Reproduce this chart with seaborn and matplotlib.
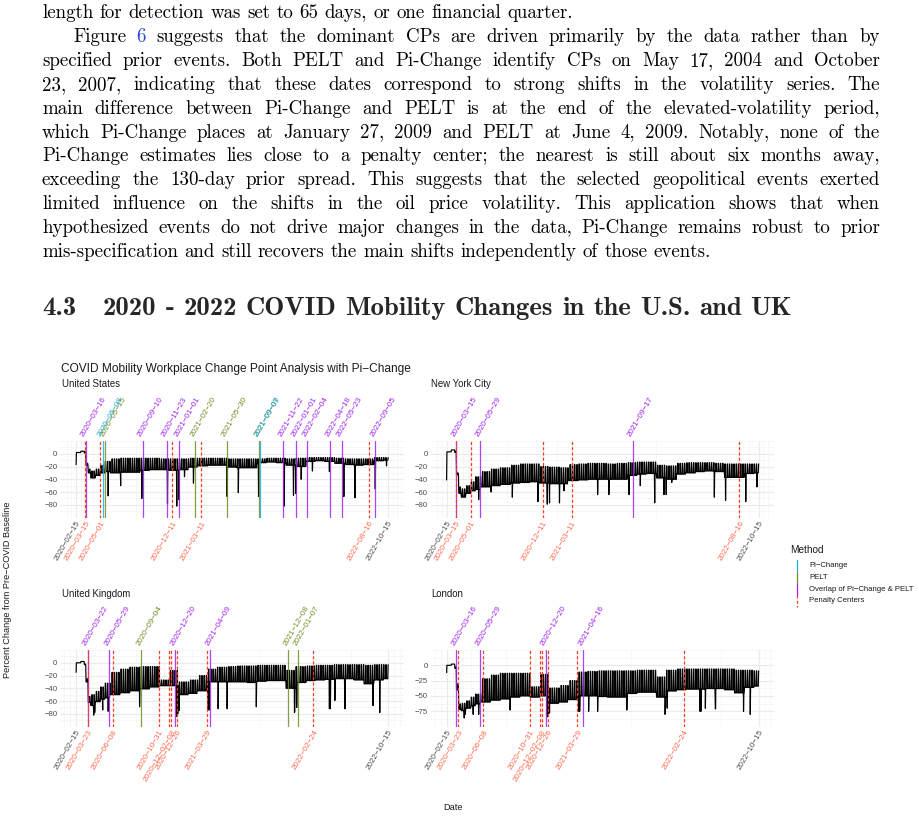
import numpy as np
import pandas as pd
import matplotlib
matplotlib.use("Agg")
import matplotlib.pyplot as plt
import matplotlib.dates as mdates
from matplotlib.lines import Line2D
import seaborn as sns

sns.set_style("white")
plt.rcParams["font.family"] = ["Liberation Sans", "DejaVu Sans"]

# ---------------------------------------------------------------------------
# data
# weekday level (lower band) and weekend level (upper spikes) per period
# ---------------------------------------------------------------------------
periods = [
    "2020-02-15", "2020-03-01", "2020-03-12", "2020-03-17", "2020-03-24",
    "2020-04-01", "2020-04-15", "2020-05-01", "2020-05-15",
    "2020-06-01", "2020-07-01", "2020-08-01", "2020-09-01", "2020-10-01",
    "2020-11-01", "2020-12-01",
    "2021-01-01", "2021-02-01", "2021-03-01", "2021-04-01", "2021-05-01",
    "2021-06-01", "2021-07-01", "2021-08-01", "2021-09-01", "2021-10-01",
    "2021-11-01", "2021-12-01",
    "2022-01-01", "2022-02-01", "2022-03-01", "2022-04-01", "2022-05-01",
    "2022-06-01", "2022-07-01", "2022-08-01", "2022-09-01", "2022-10-01",
]

us_weekday = [2, 4, 1, -18, -30, -38, -34, -30, -28, -30, -29, -29, -26, -25, -25, -26,
              -25, -21, -19, -18, -18, -21, -22, -22, -14, -13, -14, -18,
              -20, -12, -11, -12, -15, -17, -18, -17, -11, -10]
us_weekend = [2, 4, 3, -15, -24, -27, -24, -18, -12, -8, -7, -7, -7, -7, -8, -8,
              -8, -7, -7, -7, -7, -8, -8, -8, -8, -7, -7, -8,
              -7, -6, -6, -6, -7, -8, -8, -8, -6, -6]
us_hol_dates = ["2020-02-15", "2020-05-25", "2020-07-03", "2020-09-07", "2020-11-26",
                "2020-12-25", "2021-01-01", "2021-01-18", "2021-02-15", "2021-05-31",
                "2021-07-05", "2021-09-06", "2021-11-25", "2021-12-24", "2021-12-31",
                "2022-01-17", "2022-02-21", "2022-04-15", "2022-05-30", "2022-07-04",
                "2022-09-05", "2022-10-10"]
us_hol_values = [-17, -66, -50, -70, -78, -82, -72, -36, -46, -67,
                 -61, -67, -82, -65, -62, -40, -27, -28, -67, -69, -55, -19]

nyc_weekday = [3, 6, 2, -33, -62, -68, -62, -58, -56, -52, -50, -48, -46, -45, -44, -46,
               -47, -47, -42, -41, -40, -40, -40, -40, -34, -32, -31, -38,
               -40, -32, -30, -28, -27, -28, -37, -37, -31, -30]
nyc_weekend = [3, 6, 4, -30, -52, -55, -50, -44, -36, -28, -24, -22, -18, -16, -16, -20,
               -21, -22, -17, -16, -15, -15, -16, -15, -14, -13, -13, -18,
               -19, -15, -14, -14, -14, -15, -16, -16, -16, -16]
nyc_hol_dates = ["2020-02-15", "2020-05-25", "2020-07-03", "2020-09-07", "2020-11-26",
                 "2020-12-25", "2021-01-01", "2021-02-01", "2021-02-15", "2021-05-31",
                 "2021-07-05", "2021-09-06", "2021-10-11", "2021-11-25", "2021-12-24",
                 "2021-12-31", "2022-01-17", "2022-05-30", "2022-07-04", "2022-09-05",
                 "2022-10-10"]
nyc_hol_values = [-41, -72, -60, -68, -75, -79, -77, -77, -58, -64,
                  -64, -64, -50, -77, -64, -64, -45, -68, -73, -75, -52]

uk_weekday = [0, 2, -3, -30, -62, -67, -61, -57, -55, -50, -47, -44, -41, -38, -36, -36,
              -50, -48, -44, -30, -30, -30, -30, -31, -29, -28, -28, -40,
              -31, -28, -27, -26, -25, -25, -27, -33, -27, -25]
uk_weekend = [0, 2, -2, -25, -53, -50, -45, -38, -32, -15, -10, -7, -6, -6, -27, -12,
              -30, -27, -20, -10, -7, -6, -5, -5, -4, -4, -4, -12,
              -6, -5, -4, -4, -3, -3, -3, -4, -3, -3]
uk_hol_dates = ["2020-02-15", "2020-04-10", "2020-04-13", "2020-05-08", "2020-05-25",
                "2020-08-31", "2020-12-25", "2020-12-28", "2021-01-01", "2021-04-02",
                "2021-04-05", "2021-05-03", "2021-05-31", "2021-08-30", "2021-12-27",
                "2021-12-28", "2022-01-03", "2022-04-15", "2022-04-18", "2022-05-02",
                "2022-06-02", "2022-06-03", "2022-08-29", "2022-09-19"]
uk_hol_values = [-15, -82, -78, -74, -76, -69, -84, -80, -75, -74,
                 -74, -72, -72, -69, -78, -76, -70, -72, -72, -59,
                 -72, -72, -67, -78]

ldn_weekday = [0, 2, -5, -40, -72, -74, -70, -66, -63, -60, -57, -55, -52, -50, -52, -50,
               -62, -60, -56, -50, -50, -51, -52, -52, -46, -44, -44, -52,
               -42, -40, -39, -39, -38, -38, -40, -45, -36, -34]
ldn_weekend = [0, 2, -3, -30, -63, -62, -58, -52, -47, -22, -16, -13, -13, -13, -35, -15,
               -37, -33, -25, -11, -10, -9, -9, -9, -9, -8, -8, -19,
               -8, -6, -6, -6, -6, -6, -6, -8, -8, -9]
ldn_hol_dates = uk_hol_dates
ldn_hol_values = [-12, -86, -80, -80, -80, -73, -84, -80, -78, -75,
                  -75, -75, -75, -73, -80, -78, -70, -75, -75, -70,
                  -71, -71, -75, -80]

# change points (label text, method)
us_cp_dates = ["2020-03-16", "2020-05-08", "2020-05-15", "2020-09-10", "2020-11-23",
               "2021-01-01", "2021-02-20", "2021-05-30", "2021-09-07", "2021-09-09",
               "2021-11-22", "2022-01-01", "2022-02-04", "2022-04-18", "2022-05-23",
               "2022-09-05"]
us_cp_methods = ["both", "pi", "pelt", "both", "both", "both", "pelt", "pelt", "pelt", "pi",
                 "both", "both", "both", "both", "both", "both"]
nyc_cp_dates = ["2020-03-15", "2020-05-29", "2021-09-17"]
nyc_cp_methods = ["both", "both", "both"]
uk_cp_dates = ["2020-03-22", "2020-05-29", "2020-09-04", "2020-12-20", "2021-04-09",
               "2021-12-08", "2022-01-07"]
uk_cp_methods = ["both", "both", "pelt", "both", "both", "pelt", "pelt"]
ldn_cp_dates = ["2020-03-16", "2020-05-29", "2020-12-20", "2021-04-16"]
ldn_cp_methods = ["both", "both", "both", "both"]

# penalty centres (prior events)
us_penalty = ["2020-03-15", "2020-05-01", "2020-12-11", "2021-03-11", "2022-08-16"]
us_penalty_labels = ["2020-03-15", "2020-05-01", "2020-12-11", "2021-03-11", "2022-08-16"]
uk_penalty = ["2020-03-23", "2020-06-08", "2020-10-31", "2020-12-02", "2020-12-08",
              "2020-12-26", "2021-03-29", "2022-02-24"]
uk_penalty_labels = ["2020-03-23", "2020-06-08", "2020-10-31", "", "2020-12-02-08",
                     "2020-12-26", "2021-03-29", "2022-02-24"]
range_ends = ["2020-02-15", "2022-10-15"]

# ---------------------------------------------------------------------------
W, H = 920, 819
PI_COL = "#1AADEE"
PELT_COL = "#6B8E23"
BOTH_COL = "#A020F0"
PEN_COL = "#FF3B1F"
PEN_TXT = "#FF6A50"
GREY = "#4D4D4D"
method_col = {"pi": PI_COL, "pelt": PELT_COL, "both": BOTH_COL}

days = pd.date_range(range_ends[0], range_ends[1], freq="D")
period_starts = pd.to_datetime(periods)


def daily_series(weekday, weekend, hol_dates, hol_values):
    idx = period_starts.searchsorted(days, side="right") - 1
    vals = np.where(days.dayofweek < 5, np.asarray(weekday, float)[idx],
                    np.asarray(weekend, float)[idx])
    s = pd.Series(vals, index=days)
    s[pd.to_datetime(hol_dates)] = hol_values
    return s


def dnum(d):
    return mdates.date2num(pd.to_datetime(d))


def dash(s):
    return s.replace("-", "\u2212")


def px_box(x0, y0, x1, y1):
    return [x0 / W, 1 - y1 / H, (x1 - x0) / W, (y1 - y0) / H]


def gg_minor(b, lo, hi):
    b = np.sort(np.asarray(b, float))
    bd = b[1] - b[0]
    if lo < b[0]:
        b = np.r_[b[0] - bd, b]
    if hi > b[-1]:
        b = np.r_[b, b[-1] + bd]
    return np.unique(np.r_[b, (b[:-1] + b[1:]) / 2])


fig = plt.figure(figsize=(W / 100, H / 100), dpi=100)
fig.patch.set_facecolor("white")

panels = [
    dict(title="United States", box=(60.5, 441, 403.7, 517.6), title_x=62, title_y=384,
         s=daily_series(us_weekday, us_weekend, us_hol_dates, us_hol_values),
         cps=us_cp_dates, meth=us_cp_methods, pen=us_penalty, pen_lab=us_penalty_labels, step=20),
    dict(title="New York City", box=(431, 441, 774.2, 517.6), title_x=431, title_y=384,
         s=daily_series(nyc_weekday, nyc_weekend, nyc_hol_dates, nyc_hol_values),
         cps=nyc_cp_dates, meth=nyc_cp_methods, pen=us_penalty, pen_lab=us_penalty_labels, step=20),
    dict(title="United Kingdom", box=(60.5, 650, 403.7, 726.6), title_x=62, title_y=594,
         s=daily_series(uk_weekday, uk_weekend, uk_hol_dates, uk_hol_values),
         cps=uk_cp_dates, meth=uk_cp_methods, pen=uk_penalty, pen_lab=uk_penalty_labels, step=20),
    dict(title="London", box=(431, 650, 774.2, 726.6), title_x=431, title_y=594,
         s=daily_series(ldn_weekday, ldn_weekend, ldn_hol_dates, ldn_hol_values),
         cps=ldn_cp_dates, meth=ldn_cp_methods, pen=uk_penalty, pen_lab=uk_penalty_labels, step=25),
]

x_start, x_end = dnum(range_ends[0]), dnum(range_ends[1])
x_pad = 0.05 * (x_end - x_start)

for p in panels:
    ax = fig.add_axes(px_box(*p["box"]))
    s = p["s"]
    df = pd.DataFrame({"date": mdates.date2num(s.index), "value": s.values})
    sns.lineplot(data=df, x="date", y="value", ax=ax, color="black",
                 linewidth=0.85, estimator=None, zorder=2)

    # change points
    for d, m in zip(p["cps"], p["meth"]):
        ax.axvline(dnum(d), color=method_col[m], lw=0.9, alpha=0.85, zorder=3)
    # penalty centres
    for d in p["pen"]:
        ax.axvline(dnum(d), color=PEN_COL, lw=0.9, ls=(0, (2.4, 1.8)), zorder=4)

    lo, hi = s.min(), s.max()
    ypad = 0.05 * (hi - lo)
    ax.set_ylim(lo - ypad, hi + ypad)
    xlo, xhi = x_start - x_pad, x_end + x_pad
    ax.set_xlim(xlo, xhi)

    # y axis
    step = p["step"]
    yt = np.arange(0, lo - ypad, -step)
    ax.set_yticks(yt)
    ax.set_yticklabels([dash(str(int(v))) for v in yt], fontsize=5.6, color=GREY)
    ax.set_yticks(gg_minor(yt[::-1], lo - ypad, hi + ypad), minor=True)

    # bottom axis: range ends + penalty centres
    bdates = [range_ends[0]] + p["pen"] + [range_ends[1]]
    blabs = [range_ends[0]] + p["pen_lab"] + [range_ends[1]]
    bcols = [GREY] + [PEN_TXT] * len(p["pen"]) + [GREY]
    bx = [dnum(d) for d in bdates]
    ax.set_xticks(bx)
    ax.set_xticklabels([dash(t) for t in blabs], fontsize=5.8)
    for lab, c in zip(ax.get_xticklabels(), bcols):
        lab.set_color(c)
        lab.set_rotation(60)
        lab.set_ha("right")
        lab.set_va("top")
        lab.set_rotation_mode("anchor")
    ax.set_xticks(gg_minor(bx, xlo, xhi), minor=True)

    ax.tick_params(axis="both", which="both", length=0)
    ax.tick_params(axis="y", pad=2.2)
    ax.tick_params(axis="x", pad=1.6)
    ax.grid(which="major", color="#EBEBEB", lw=0.8)
    ax.grid(which="minor", color="#F4F4F4", lw=0.5)
    ax.set_axisbelow(True)
    ax.set_xlabel("")
    ax.set_ylabel("")
    for sp in ax.spines.values():
        sp.set_visible(False)

    # top axis: change point dates
    sec = ax.secondary_xaxis("top")
    sec.set_xticks([dnum(d) for d in p["cps"]])
    sec.set_xticklabels([dash(d) for d in p["cps"]], fontsize=5.8)
    for lab, m in zip(sec.get_xticklabels(), p["meth"]):
        lab.set_color(method_col[m])
        lab.set_rotation(60)
        lab.set_ha("left")
        lab.set_va("bottom")
        lab.set_rotation_mode("anchor")
    sec.tick_params(axis="x", length=0, pad=2.2)
    for sp in sec.spines.values():
        sp.set_visible(False)

    fig.text(p["title_x"] / W, 1 - p["title_y"] / H, p["title"], fontsize=6.9,
             va="center", ha="left", color="#1A1A1A")

# chart titles
fig.text(61 / W, 1 - 369 / H, dash("COVID Mobility Workplace Change Point Analysis with Pi-Change"),
         fontsize=8.6, va="center", ha="left", color="#1A1A1A")
fig.text(8 / W, 1 - 590 / H, dash("Percent Change from Pre-COVID Baseline"), rotation=90,
         fontsize=6.6, va="center", ha="center", color="#1A1A1A")
fig.text(453 / W, 1 - 808 / H, "Date", fontsize=6.6, va="center", ha="center", color="#1A1A1A")

# legend
fig.text(790 / W, 1 - 550 / H, "Method", fontsize=7.2, va="center", ha="left", color="#1A1A1A")
legend_items = [("Pi-Change", PI_COL, "-"), ("PELT", PELT_COL, "-"),
                ("Overlap of Pi-Change & PELT", BOTH_COL, "-"), ("Penalty Centers", PEN_COL, "--")]
for i, (lab, c, ls) in enumerate(legend_items):
    yc = 565.5 + 11.8 * i
    ln = Line2D([797 / W, 797 / W], [1 - (yc - 5.6) / H, 1 - (yc + 5.6) / H],
                transform=fig.transFigure, color=c, lw=0.9,
                ls=(0, (2.4, 1.8)) if ls == "--" else "-")
    fig.add_artist(ln)
    fig.text(809 / W, 1 - yc / H, dash(lab), fontsize=5.6, va="center", ha="left", color="#1A1A1A")

# ---------------------------------------------------------------------------
# surrounding page text
# ---------------------------------------------------------------------------
renderer = fig.canvas.get_renderer()
BODY = ["cmr10", "DejaVu Serif"]
BOLD = ["cmb10", "DejaVu Serif"]

paper_lines = [
    ("length for detection was set to 65 days, or one financial quarter.", 42, False),
    ("Figure 6 suggests that the dominant CPs are driven primarily by the data rather than by", 73, True),
    ("specified prior events.  Both PELT and Pi-Change identify CPs on May 17, 2004 and October", 42, True),
    ("23, 2007, indicating that these dates correspond to strong shifts in the volatility series.  The", 42, True),
    ("main difference between Pi-Change and PELT is at the end of the elevated-volatility period,", 42, True),
    ("which Pi-Change places at January 27, 2009 and PELT at June 4, 2009.  Notably, none of the", 42, True),
    ("Pi-Change estimates lies close to a penalty center; the nearest is still about six months away,", 42, True),
    ("exceeding the 130-day prior spread.  This suggests that the selected geopolitical events exerted", 42, True),
    ("limited influence on the shifts in the oil price volatility.  This application shows that when", 42, True),
    ("hypothesized events do not drive major changes in the data, Pi-Change remains robust to prior", 42, True),
    ("mis-specification and still recovers the main shifts independently of those events.", 42, False),
]


def word_widths(words, fs, family, weight="normal"):
    out = []
    for w in words:
        t = fig.text(0, 0, w, fontsize=fs, family=family, weight=weight)
        out.append(t.get_window_extent(renderer).width)
        t.remove()
    return out


def natural_width(text, fs, family, weight="normal"):
    words = text.split()
    return sum(word_widths(words, fs, family, weight)) + 0.333 * fs * 100 / 72 * (len(words) - 1)


body_fs = 10 * (573 - 42) / natural_width(paper_lines[0][0], 10, BODY)

for k, (line, x0, justify) in enumerate(paper_lines):
    yb = 18 + 23.9 * k
    words = line.split()
    widths = word_widths(words, body_fs, BODY)
    if justify:
        gap = (880 - x0 - sum(widths)) / (len(words) - 1)
    else:
        gap = 0.333 * body_fs * 100 / 72
    x = x0
    for w, wd in zip(words, widths):
        col = "#2B45D8" if (k == 1 and w == "6") else "black"
        fig.text(x / W, 1 - yb / H, w, fontsize=body_fs, family=BODY, va="baseline",
                 ha="left", color=col)
        x += wd + gap

heading = "2020 - 2022 COVID Mobility Changes in the U.S. and UK"
head_fs = 10 * (792 - 103) / natural_width(heading, 10, BOLD)
fig.text(42 / W, 1 - 315 / H, "4.3", fontsize=head_fs, family=BOLD, va="baseline", ha="left")
hw = heading.split()
hwid = word_widths(hw, head_fs, BOLD)
hgap = (792 - 103 - sum(hwid)) / (len(hw) - 1)
x = 103
for w, wd in zip(hw, hwid):
    fig.text(x / W, 1 - 315 / H, w, fontsize=head_fs, family=BOLD, va="baseline", ha="left")
    x += wd + hgap

fig.savefig("out.png", dpi=100, facecolor="white")
